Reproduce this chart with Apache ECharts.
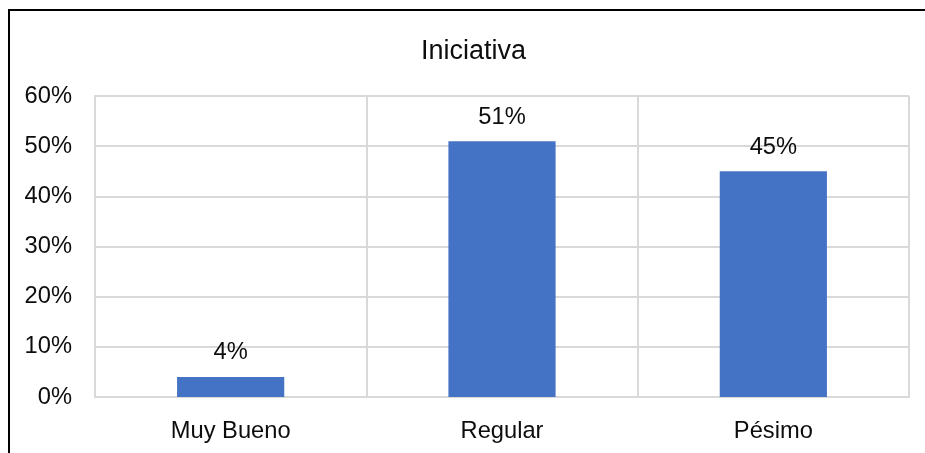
<!DOCTYPE html>
<html>
<head>
<meta charset="utf-8">
<script src="https://cdn.jsdelivr.net/npm/echarts@6/dist/echarts.min.js"></script>
<style>
  html, body { margin: 0; padding: 0; background: #ffffff; }
  #chart { width: 925px; height: 453px; }
</style>
</head>
<body>
<div id="chart"></div>
<script>
// Ratings for "Iniciativa" (percent of responses)
const categories = ['Muy Bueno', 'Regular', 'Pésimo'];
const values = [4, 51, 45];
const yTicks = [0, 10, 20, 30, 40, 50, 60];

const FONT = '"Liberation Sans", Arial, sans-serif';
const TEXT = '#0d0d0d';
const GRID = '#d9d9d9';

const chart = echarts.init(document.getElementById('chart'), null, { renderer: 'canvas' });

chart.setOption({
  backgroundColor: '#ffffff',
  animation: false,
  title: {
    text: 'Iniciativa',
    left: 416,
    top: 33,
    textStyle: { fontFamily: FONT, fontSize: 27, fontWeight: 'normal', color: TEXT }
  },
  graphic: [{
    type: 'rect',
    shape: { x: 9, y: 10, width: 1200, height: 1000 },
    style: { fill: 'none', stroke: '#000000', lineWidth: 2 },
    silent: true,
    z: 100
  }],
  grid: { left: 95, right: 16, top: 96, bottom: 56, containLabel: false },
  xAxis: {
    type: 'category',
    data: categories,
    boundaryGap: true,
    axisLine: { show: true, lineStyle: { color: GRID, width: 2 } },
    axisTick: { show: false },
    splitLine: { show: true, showMinLine: true, showMaxLine: true, lineStyle: { color: GRID, width: 2 } },
    axisLabel: { fontFamily: FONT, fontSize: 23.7, color: TEXT, margin: 22 }
  },
  yAxis: {
    type: 'value',
    min: yTicks[0],
    max: yTicks[yTicks.length - 1],
    interval: yTicks[1] - yTicks[0],
    axisLine: { show: true, lineStyle: { color: GRID, width: 2 } },
    axisTick: { show: false },
    splitLine: { show: true, lineStyle: { color: GRID, width: 2 } },
    axisLabel: { fontFamily: FONT, fontSize: 23.7, color: TEXT, margin: 23, formatter: '{value}%' }
  },
  series: [{
    type: 'bar',
    data: values,
    barWidth: '39.5%',
    itemStyle: { color: '#4472C4' },
    label: {
      show: true,
      position: 'top',
      distance: 12,
      fontFamily: FONT,
      fontSize: 23.7,
      color: TEXT,
      formatter: p => p.value + '%'
    }
  }]
});
</script>
</body>
</html>
